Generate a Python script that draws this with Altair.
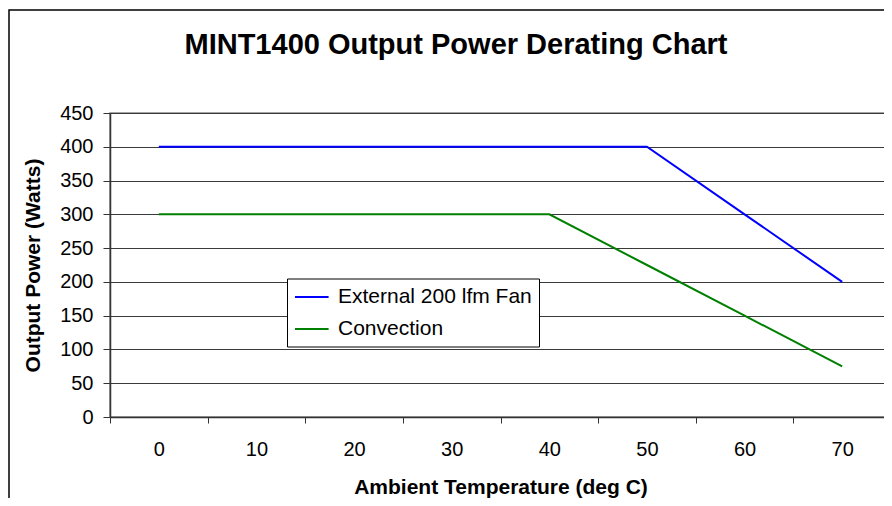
import altair as alt
import pandas as pd

# ---- data ----
title_text = "MINT1400 Output Power Derating Chart"
temps = [0, 10, 20, 30, 40, 50, 60, 70]
fan_watts = [400, 400, 400, 400, 400, 400, 300, 200]
conv_watts = [300, 300, 300, 300, 300, 225, 150, 75]
series_names = ["External 200 lfm Fan", "Convection"]
series_colors = ["#0000FF", "#008000"]
y_ticks = [0, 50, 100, 150, 200, 250, 300, 350, 400, 450]

rows = []
for t, f, c in zip(temps, fan_watts, conv_watts):
    rows.append({"temp": t, "watts": f, "series": series_names[0]})
    rows.append({"temp": t, "watts": c, "series": series_names[1]})
df = pd.DataFrame(rows)

FONT = "Liberation Sans"
W, H = 781, 304

lines = alt.Chart(df).mark_line(strokeWidth=2).encode(
    x=alt.X(
        "temp:O",
        bandPosition=0.5,
        sort=temps,
        scale=alt.Scale(type="band", domain=temps, paddingInner=0, paddingOuter=0),
        axis=alt.Axis(
            title="Ambient Temperature (deg C)",
            tickBand="extent",
            labelAngle=0,
            grid=False,
            tickSize=6,
            labelPadding=16,
            titleY=76,
            titleBaseline="alphabetic",
        ),
    ),
    y=alt.Y(
        "watts:Q",
        scale=alt.Scale(domain=[0, 450], nice=False),
        axis=alt.Axis(
            values=y_ticks,
            title="Output Power (Watts)",
            tickSize=7,
            labelPadding=10,
            gridColor="#3a3a3a",
            gridWidth=1,
            titleX=-71,
            titleY=152,
            titleAngle=270,
            titleAlign="center",
            titleBaseline="alphabetic",
        ),
    ),
    color=alt.Color(
        "series:N",
        sort=series_names,
        scale=alt.Scale(domain=series_names, range=series_colors),
        legend=alt.Legend(
            title=None,
            orient="none",
            legendX=177,
            legendY=165.5,
            direction="vertical",
            symbolType="M-1,0H2.2",
            symbolSize=441,
            symbolStrokeWidth=2,
            labelFontSize=21,
            labelFont=FONT,
            labelColor="black",
            labelOffset=21,
            labelLimit=400,
            padding=7,
            rowPadding=10,
            strokeColor="black",
            fillColor="white",
            cornerRadius=0,
        ),
    ),
)

frame = alt.Chart(pd.DataFrame({"k": [0]})).mark_rect(
    fill="white", fillOpacity=0, stroke="black", strokeWidth=1.5
).encode(
    x=alt.value(-101), x2=alt.value(W + 30), y=alt.value(-103), y2=alt.value(H + 120)
)

title = alt.Chart(pd.DataFrame({"t": [title_text]})).mark_text(
    font=FONT, fontSize=29, fontWeight="bold", color="black",
    align="center", baseline="alphabetic",
).encode(
    text="t:N", x=alt.value(346), y=alt.value(-58.7)
)

chart = alt.layer(frame, lines, title).properties(
    width=W,
    height=H,
    autosize=alt.AutoSizeParams(type="none"),
    padding={"left": 102, "top": 105, "right": -7, "bottom": 81},
    background="white",
).configure_view(
    stroke="#888888", strokeWidth=1.5
).configure_axis(
    labelFont=FONT,
    labelFontSize=20,
    labelColor="black",
    titleFont=FONT,
    titleFontSize=21,
    titleFontWeight="bold",
    titleColor="black",
    domainColor="#333333",
    domainWidth=1.5,
    tickColor="#333333",
    tickWidth=1,
)

chart.save("out.html", embed_options={"renderer": "svg", "actions": False})
